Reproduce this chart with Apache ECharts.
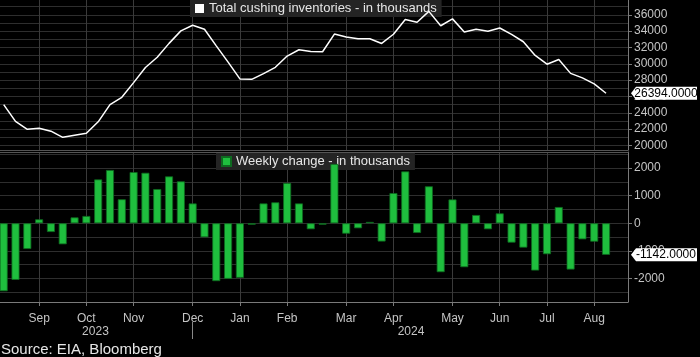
<!DOCTYPE html>
<html><head><meta charset="utf-8">
<script src="https://cdn.jsdelivr.net/npm/echarts@6/dist/echarts.min.js"></script>
<style>html,body{margin:0;padding:0;background:#000;}#c{width:700px;height:357px;}</style>
</head><body><div id="c"></div>
<script>
const lineName = 'Total cushing inventories - in thousands';
const barName = 'Weekly change - in thousands';
const sourceText = 'Source: EIA, Bloomberg';

// weekly values, Aug 2023 .. Aug 2024
const inventories = [
  25000, 22950, 21980, 22100, 21750, 21000, 21250, 21500, 22900, 25000,
  25900, 27700, 29550, 30800, 32500, 34030, 34720, 34230, 32200, 30200,
  28150, 28100, 28800, 29570, 30950, 31720, 31520, 31480, 33640, 33270,
  33080, 33060, 32490, 33620, 35420, 35080, 36420, 34660, 35500, 33900,
  34220, 33990, 34380, 33600, 32700, 31020, 29950, 30520, 28830, 28280,
  27540, 26394
];
const weeklyChange = [
  -2460, -2050, -930, 145, -315, -760, 215, 265, 1590, 1930,
  870, 1855, 1830, 1240, 1700, 1520, 720, -505, -2095, -2010,
  -1975, -50, 720, 760, 1460, 720, -215, -50, 2150, -375,
  -180, 50, -660, 1095, 1880, -350, 1340, -1770, 865, -1590,
  300, -215, 360, -700, -880, -1710, -1120, 590, -1675, -580,
  -665, -1142
];

// axis ticks (week index of each month label)
const monthLabels = ['Sep','Oct','Nov','Dec','Jan','Feb','Mar','Apr','May','Jun','Jul','Aug'];
const monthTickIdx = [3, 7, 11, 16, 20, 24, 29, 33, 38, 42, 46, 50];
const yearLabels = ['2023', '2024'];
const yearLabelPos = [7.77, 34.49];
const yearBreakIdx = [16];
const topTickLabels = [20000, 22000, 24000, 26000, 28000, 30000, 32000, 34000, 36000];
const topGridValues = [20000, 21000, 22000, 23000, 24000, 25000, 26000, 27000, 28000, 29000,
  30000, 31000, 32000, 33000, 34000, 35000, 36000, 37000];
const botTickLabels = [-2000, -1000, 0, 1000, 2000];
const botGridValues = [-2500, -2000, -1500, -1000, -500, 0, 500, 1000, 1500, 2000, 2500];

const X_MIN = -0.313, X_MAX = 52.86;
const TOP_MIN = 19450, TOP_MAX = 37810;
const BOT_MIN = -2851, BOT_MAX = 2583;

const FONT = '"Liberation Sans", Arial, sans-serif';
const GRID_COLOR = '#2e2e2e';
const VGRID_COLOR = '#3a3a3a';
const AXIS_COLOR = '#7a7a7a';
const LABEL_COLOR = '#c4c4c4';

const badgePath = 'path://M0,6.5L5,0L66,0L66,13L5,13Z';

function yLabelAxis(grid, min, max, ticks) {
  return {
    type: 'value', gridIndex: grid, position: 'right', min, max,
    axisLine: { show: true, onZero: false, lineStyle: { color: AXIS_COLOR } },
    axisTick: { show: true, length: 4, customValues: ticks, lineStyle: { color: AXIS_COLOR } },
    axisLabel: { customValues: ticks, color: LABEL_COLOR, fontSize: 12, fontFamily: FONT, margin: 6,
      formatter: v => String(v) },
    splitLine: { show: false }
  };
}
function yGridAxis(grid, min, max, vals) {
  return {
    type: 'value', gridIndex: grid, position: 'right', min, max,
    axisLine: { show: false, onZero: false },
    axisTick: { show: false, customValues: vals },
    axisLabel: { show: false },
    splitLine: { show: true, lineStyle: { color: GRID_COLOR, width: 1 } }
  };
}

const chart = echarts.init(document.getElementById('c'), null, { renderer: 'canvas' });
chart.setOption({
  backgroundColor: '#000',
  animation: false,
  textStyle: { fontFamily: FONT },
  title: {
    text: sourceText, left: 1, top: 342, padding: 0,
    textStyle: { color: '#e6e6e6', fontSize: 15, fontWeight: 'normal', fontFamily: FONT }
  },
  legend: [
    { data: [lineName], left: 190, top: 0, z: 1, padding: [2, 5, 2, 5], backgroundColor: '#242424',
      icon: 'rect', itemWidth: 9, itemHeight: 9,
      textStyle: { color: '#e6e6e6', fontSize: 13, fontFamily: FONT } },
    { data: [barName], left: 216, top: 153, z: 1, padding: [2, 5, 2, 5], backgroundColor: '#242424',
      icon: 'rect', itemWidth: 9, itemHeight: 9,
      textStyle: { color: '#e6e6e6', fontSize: 13, fontFamily: FONT } }
  ],
  grid: [
    { left: 0, top: 0, width: 628, height: 150 },
    { left: 0, top: 152, width: 628, height: 150 }
  ],
  xAxis: [
    { type: 'value', gridIndex: 0, position: 'bottom', min: X_MIN, max: X_MAX,
      axisLine: { show: true, onZero: false, lineStyle: { color: '#555' } },
      axisTick: { show: false, customValues: monthTickIdx },
      axisLabel: { show: false },
      splitLine: { show: true, lineStyle: { color: VGRID_COLOR } } },
    { type: 'value', gridIndex: 1, position: 'bottom', min: X_MIN, max: X_MAX,
      axisLine: { show: true, onZero: false, lineStyle: { color: AXIS_COLOR } },
      axisTick: { show: true, length: 4, customValues: monthTickIdx, lineStyle: { color: AXIS_COLOR } },
      axisLabel: { customValues: monthTickIdx, color: LABEL_COLOR, fontSize: 12, fontFamily: FONT, margin: 11,
        formatter: v => monthLabels[monthTickIdx.indexOf(Math.round(v))] || '' },
      splitLine: { show: true, lineStyle: { color: VGRID_COLOR } } },
    { type: 'value', gridIndex: 1, position: 'top', min: X_MIN, max: X_MAX,
      axisLine: { show: true, onZero: false, lineStyle: { color: '#555' } },
      axisTick: { show: false }, axisLabel: { show: false }, splitLine: { show: false } },
    { type: 'value', gridIndex: 1, position: 'bottom', offset: 20, min: X_MIN, max: X_MAX,
      axisLine: { show: false, onZero: false },
      axisTick: { show: true, length: 17, customValues: yearBreakIdx, lineStyle: { color: '#888' } },
      axisLabel: { customValues: yearLabelPos, color: LABEL_COLOR, fontSize: 12, fontFamily: FONT, margin: 4,
        formatter: v => { const k = yearLabelPos.findIndex(p => Math.abs(p - v) < 0.01); return k >= 0 ? yearLabels[k] : ''; } },
      splitLine: { show: false } }
  ],
  yAxis: [
    yLabelAxis(0, TOP_MIN, TOP_MAX, topTickLabels),
    yGridAxis(0, TOP_MIN, TOP_MAX, topGridValues),
    yLabelAxis(1, BOT_MIN, BOT_MAX, botTickLabels),
    yGridAxis(1, BOT_MIN, BOT_MAX, botGridValues)
  ],
  series: [
    { name: lineName, type: 'line', xAxisIndex: 0, yAxisIndex: 0, z: 3,
      data: inventories.map((v, i) => [i, v]),
      symbol: 'none', color: '#ffffff',
      lineStyle: { color: '#ffffff', width: 1.5 },
      markPoint: {
        symbol: badgePath, symbolSize: [66, 13], symbolKeepAspect: false, symbolOffset: [36, 0],
        itemStyle: { color: '#ffffff' },
        label: { show: true, position: 'inside', offset: [2, 0], color: '#000', fontSize: 12, fontFamily: FONT,
          formatter: p => Number(p.value).toFixed(4) },
        data: [{ coord: [X_MAX, inventories[inventories.length - 1]], value: inventories[inventories.length - 1] }]
      } },
    { name: barName, type: 'bar', xAxisIndex: 1, yAxisIndex: 2, z: 3,
      data: weeklyChange.map((v, i) => [i, v]),
      barWidth: 8, color: '#1fbe3e',
      itemStyle: { color: '#1fbe3e', borderColor: '#0e6a20', borderWidth: 0.8 },
      markPoint: {
        symbol: badgePath, symbolSize: [66, 13], symbolKeepAspect: false, symbolOffset: [36, 0],
        itemStyle: { color: '#ffffff' },
        label: { show: true, position: 'inside', offset: [2, 0], color: '#000', fontSize: 12, fontFamily: FONT,
          formatter: p => Number(p.value).toFixed(4) },
        data: [{ coord: [X_MAX, weeklyChange[weeklyChange.length - 1]], value: weeklyChange[weeklyChange.length - 1] }]
      } }
  ]
});
</script></body></html>
